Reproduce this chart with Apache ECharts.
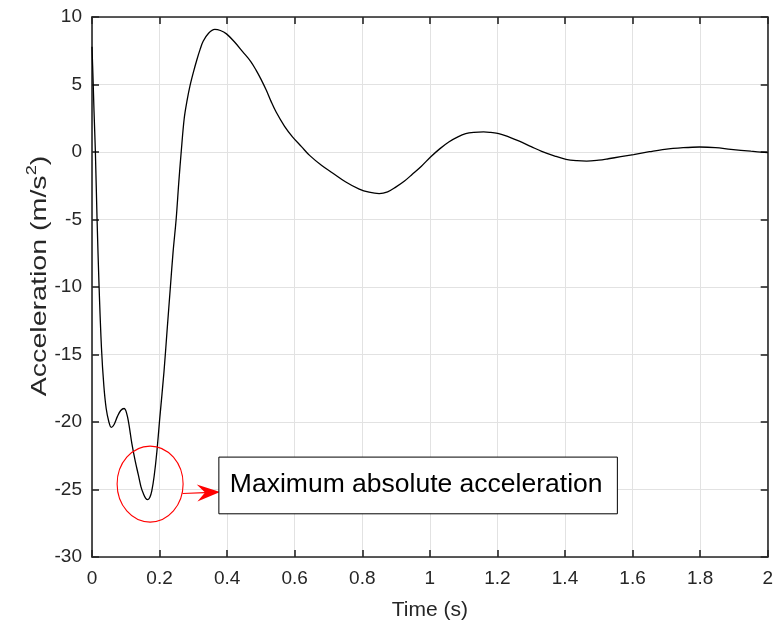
<!DOCTYPE html>
<html>
<head>
<meta charset="utf-8">
<script src="https://cdn.jsdelivr.net/npm/echarts@6/dist/echarts.min.js"></script>
<style>
html,body{margin:0;padding:0;background:#fff;}
#chart{width:776px;height:628px;}
</style>
</head>
<body>
<div id="chart"></div>
<script>
// ---- data ----
const timeS = [0, 0.003, 0.006, 0.01, 0.015, 0.021, 0.028, 0.035, 0.042, 0.05, 0.057, 0.065, 0.075, 0.085, 0.095, 0.105, 0.118, 0.128, 0.137, 0.145, 0.152, 0.159, 0.165, 0.171, 0.177, 0.184, 0.192, 0.201, 0.213, 0.222, 0.232, 0.24, 0.249, 0.257, 0.264, 0.273, 0.282, 0.29, 0.3, 0.31, 0.32, 0.329, 0.345, 0.3635, 0.38, 0.398, 0.42, 0.447, 0.47, 0.486, 0.5, 0.516, 0.53, 0.545, 0.57, 0.594, 0.62, 0.644, 0.68, 0.712, 0.75, 0.791, 0.82, 0.85, 0.875, 0.899, 0.925, 0.948, 0.975, 1.002, 1.03, 1.056, 1.08, 1.106, 1.13, 1.159, 1.18, 1.204, 1.235, 1.263, 1.3, 1.331, 1.37, 1.403, 1.435, 1.464, 1.5, 1.528, 1.565, 1.603, 1.65, 1.695, 1.75, 1.798, 1.845, 1.891, 1.95, 2.0];
const accel = [7.8, 5.5, 3, 0, -5, -10, -14.5, -17.3, -19.0, -20.0, -20.4, -20.2, -19.6, -19.15, -19.0, -19.6, -21.6, -22.9, -23.9, -24.8, -25.3, -25.65, -25.75, -25.6, -25.1, -24.0, -22.2, -19.6, -16.3, -13.3, -10.0, -7.4, -5.0, -2.2, 0, 2.5, 3.9, 4.9, 5.9, 6.8, 7.6, 8.2, 8.8, 9.08, 9.0, 8.75, 8.2, 7.4, 6.7, 6.05, 5.4, 4.57, 3.75, 2.96, 1.9, 1.1, 0.4, -0.25, -1.0, -1.55, -2.2, -2.75, -2.98, -3.08, -2.95, -2.6, -2.15, -1.65, -1.05, -0.37, 0.25, 0.74, 1.08, 1.36, 1.46, 1.49, 1.45, 1.37, 1.1, 0.82, 0.4, 0.05, -0.3, -0.54, -0.64, -0.67, -0.6, -0.5, -0.35, -0.19, 0.02, 0.2, 0.32, 0.37, 0.33, 0.2, 0.06, -0.05];

const xTitle = 'Time (s)';
const yTitleMain = 'Acceleration (m/s';
const yTitleSup = '2';
const yTitleEnd = ')';
const noteText = 'Maximum absolute acceleration';

// annotation anchors (data units)
const ellipseCenter = [0.172, -24.6];
const arrowStart = [0.268, -25.3];
const arrowTip = [0.379, -25.18];
const boxTopLeft = [0.3755, -22.6];
const boxBottomRight = [1.555, -26.8];

const FONT = '"Liberation Sans", Arial, Helvetica, sans-serif';
const TXT = '#262626';

const seriesData = timeS.map((t, i) => [t, accel[i]]);

const chart = echarts.init(document.getElementById('chart'), null, {renderer: 'canvas'});

const axisCommonX = {
  type: 'value', min: 0, max: 2, interval: 0.2,
  axisLine: {show: true, onZero: false, lineStyle: {color: TXT, width: 1.6}},
  axisTick: {show: true, inside: true, length: 7, lineStyle: {color: TXT, width: 1.6}},
};
const axisCommonY = {
  type: 'value', min: -30, max: 10, interval: 5,
  axisLine: {show: true, onZero: false, lineStyle: {color: TXT, width: 1.6}},
  axisTick: {show: true, inside: true, length: 7, lineStyle: {color: TXT, width: 1.6}},
};

chart.setOption({
  animation: false,
  backgroundColor: '#ffffff',
  textStyle: {fontFamily: FONT},
  grid: {left: 92, right: 6, top: 17, bottom: 71, containLabel: false},
  xAxis: [
    Object.assign({}, axisCommonX, {
      position: 'bottom',
      name: xTitle, nameLocation: 'middle', nameGap: 43,
      nameTextStyle: {fontSize: 21, color: TXT, fontFamily: FONT},
      axisLabel: {show: true, margin: 12, fontSize: 19, color: TXT, fontFamily: FONT,
        formatter: v => String(Math.round(v * 10) / 10)},
      splitLine: {show: true, lineStyle: {color: '#e2e2e2', width: 1}}
    }),
    Object.assign({}, axisCommonX, {
      position: 'top', axisLabel: {show: false}, splitLine: {show: false}
    })
  ],
  yAxis: [
    Object.assign({}, axisCommonY, {
      position: 'left',
      axisLabel: {show: true, margin: 10, fontSize: 19, color: TXT, fontFamily: FONT},
      splitLine: {show: true, lineStyle: {color: '#e2e2e2', width: 1}}
    }),
    Object.assign({}, axisCommonY, {
      position: 'right', axisLabel: {show: false}, splitLine: {show: false}
    })
  ],
  series: [{
    type: 'line',
    data: seriesData,
    xAxisIndex: 0, yAxisIndex: 0,
    showSymbol: false,
    smooth: 0.35,
    lineStyle: {color: '#000000', width: 1.3},
    z: 5
  }]
});

function px(p) { return chart.convertToPixel({gridIndex: 0}, p); }

const c = px(ellipseCenter);
const a0 = px(arrowStart);
const a1 = px(arrowTip);
const b0 = px(boxTopLeft);
const b1 = px(boxBottomRight);
const gTop = px([0, 10]);
const gBot = px([0, -30]);

// arrowhead geometry (concave back)
const dx = a1[0] - a0[0], dy = a1[1] - a0[1];
const L = Math.sqrt(dx * dx + dy * dy);
const ux = dx / L, uy = dy / L;
const nx = -uy, ny = ux;
const headLen = 23, headHalf = 8.5, notch = 15;
const back = [a1[0] - ux * headLen, a1[1] - uy * headLen];
const notchPt = [a1[0] - ux * notch, a1[1] - uy * notch];
const headPts = [
  a1,
  [back[0] + nx * headHalf, back[1] + ny * headHalf],
  notchPt,
  [back[0] - nx * headHalf, back[1] - ny * headHalf]
];

chart.setOption({
  graphic: [
    {type: 'text', x: 38, y: (gTop[1] + gBot[1]) / 2 - 11, rotation: Math.PI / 2, scaleX: 1.3,
      style: {
        text: '{a|' + yTitleMain + '}{s|' + yTitleSup + '}{a|' + yTitleEnd + '}',
        align: 'center', verticalAlign: 'middle', fill: TXT, fontFamily: FONT, fontSize: 22,
        rich: {
          a: {fontSize: 22, fill: TXT, fontFamily: FONT, lineHeight: 25, verticalAlign: 'bottom'},
          s: {fontSize: 14, fill: TXT, fontFamily: FONT, lineHeight: 14, verticalAlign: 'top', padding: [0, 0, 20, 0]}
        }
      }, z: 10},
    {type: 'ellipse', shape: {cx: c[0], cy: c[1], rx: 33, ry: 38},
      style: {fill: 'none', stroke: '#ff0000', lineWidth: 1.1}, z: 10},
    {type: 'line', shape: {x1: a0[0], y1: a0[1], x2: notchPt[0], y2: notchPt[1]},
      style: {stroke: '#ff0000', lineWidth: 1.1}, z: 10},
    {type: 'polygon', shape: {points: headPts}, style: {fill: '#ff0000'}, z: 10},
    {type: 'rect', shape: {x: b0[0], y: b0[1], width: b1[0] - b0[0], height: b1[1] - b0[1]},
      style: {fill: '#ffffff', stroke: '#000000', lineWidth: 1}, z: 10},
    {type: 'text', x: b0[0] + 11, y: (b0[1] + b1[1]) / 2 - 1,
      style: {text: noteText, fill: '#000000', fontSize: 26.5, fontFamily: FONT,
        align: 'left', verticalAlign: 'middle'}, z: 11}
  ]
});
</script>
</body>
</html>
